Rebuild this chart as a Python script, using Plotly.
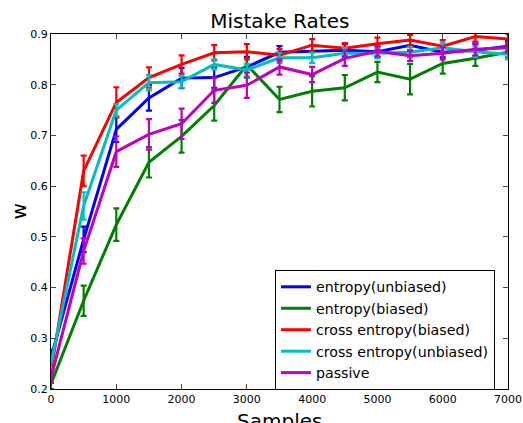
import plotly.graph_objects as go

samples = [0, 500, 1000, 1500, 2000, 2500, 3000, 3500, 4000, 4500, 5000, 5500, 6000, 6500, 7000]

names = ["entropy(unbiased)", "entropy(biased)", "cross entropy(biased)",
         "cross entropy(unbiased)", "passive"]
colors = ["#0000ff", "#008000", "#ff0000", "#00bfbf", "#bf00bf"]

entropy_unbiased = [0.262, 0.495, 0.712, 0.774, 0.813, 0.814, 0.835, 0.864, 0.866, 0.868, 0.865, 0.878, 0.864, 0.868, 0.876]
entropy_unbiased_err = [0.015, 0.025, 0.025, 0.025, 0.02, 0.02, 0.02, 0.012, 0.012, 0.012, 0.01, 0.01, 0.01, 0.012, 0.01]

entropy_biased = [0.21, 0.374, 0.524, 0.647, 0.698, 0.759, 0.839, 0.771, 0.787, 0.794, 0.825, 0.811, 0.842, 0.852, 0.864]
entropy_biased_err = [0.01, 0.03, 0.032, 0.03, 0.032, 0.03, 0.025, 0.025, 0.03, 0.025, 0.02, 0.03, 0.02, 0.015, 0.01]

cross_biased = [0.235, 0.63, 0.765, 0.814, 0.84, 0.863, 0.865, 0.858, 0.878, 0.872, 0.881, 0.888, 0.876, 0.895, 0.89]
cross_biased_err = [0.01, 0.03, 0.03, 0.02, 0.018, 0.015, 0.015, 0.012, 0.012, 0.01, 0.012, 0.01, 0.012, 0.01, 0.01]

cross_unbiased = [0.25, 0.561, 0.75, 0.804, 0.806, 0.84, 0.829, 0.853, 0.853, 0.862, 0.862, 0.864, 0.873, 0.865, 0.86]
cross_unbiased_err = [0.01, 0.027, 0.012, 0.015, 0.012, 0.01, 0.012, 0.01, 0.01, 0.01, 0.01, 0.01, 0.01, 0.01, 0.01]

passive = [0.222, 0.472, 0.668, 0.702, 0.723, 0.789, 0.799, 0.835, 0.82, 0.852, 0.866, 0.857, 0.862, 0.87, 0.873]
passive_err = [0.01, 0.025, 0.03, 0.03, 0.03, 0.025, 0.025, 0.015, 0.015, 0.015, 0.01, 0.01, 0.012, 0.012, 0.01]

series = [entropy_unbiased, entropy_biased, cross_biased, cross_unbiased, passive]
errors = [entropy_unbiased_err, entropy_biased_err, cross_biased_err, cross_unbiased_err, passive_err]

x_ticks = [0, 1000, 2000, 3000, 4000, 5000, 6000, 7000]
y_ticks = [0.2, 0.3, 0.4, 0.5, 0.6, 0.7, 0.8, 0.9]

fig = go.Figure()
for name, col, ys, es in zip(names, colors, series, errors):
    fig.add_trace(go.Scatter(
        x=samples, y=ys, name=name, mode="lines",
        line=dict(color=col, width=3),
        error_y=dict(type="data", array=es, visible=True, color=col, thickness=2.2, width=3),
    ))

font = "DejaVu Sans, sans-serif"
fig.update_layout(
    width=523, height=423,
    margin=dict(l=51, r=15, t=34, b=34),
    paper_bgcolor="white", plot_bgcolor="white",
    font=dict(family=font, color="black", size=11),
    title=dict(text="Mistake Rates", x=0.535, xanchor="center", y=0.968, yanchor="top",
               font=dict(size=20, family=font)),
    showlegend=True,
    legend=dict(x=0.49, y=0.335, xanchor="left", yanchor="top",
                bordercolor="black", borderwidth=1, bgcolor="white",
                font=dict(size=14.2, family=font), tracegroupgap=0),
    annotations=[
        dict(text="Samples", x=0.5, y=-0.05, xref="paper", yref="paper",
             xanchor="center", yanchor="top", showarrow=False,
             font=dict(size=20, family=font)),
        dict(text="w", x=-0.072, y=0.5, xref="paper", yref="paper",
             xanchor="center", yanchor="middle", showarrow=False, textangle=-90,
             font=dict(size=20, family=font)),
    ],
)
fig.update_xaxes(range=[0, 7000], tickvals=x_ticks, ticks="inside", ticklen=5,
                 showline=True, linecolor="black", linewidth=1, mirror="allticks",
                 showgrid=False, zeroline=False, automargin=False)
fig.update_yaxes(range=[0.2, 0.9], tickvals=y_ticks, ticktext=[str(v) for v in y_ticks],
                 ticks="inside", ticklen=5,
                 showline=True, linecolor="black", linewidth=1, mirror="allticks",
                 showgrid=False, zeroline=False, automargin=False)

fig.write_html("out.html", config={"displayModeBar": False},
               post_script="document.body.style.margin='0';document.body.style.overflow='hidden';")
